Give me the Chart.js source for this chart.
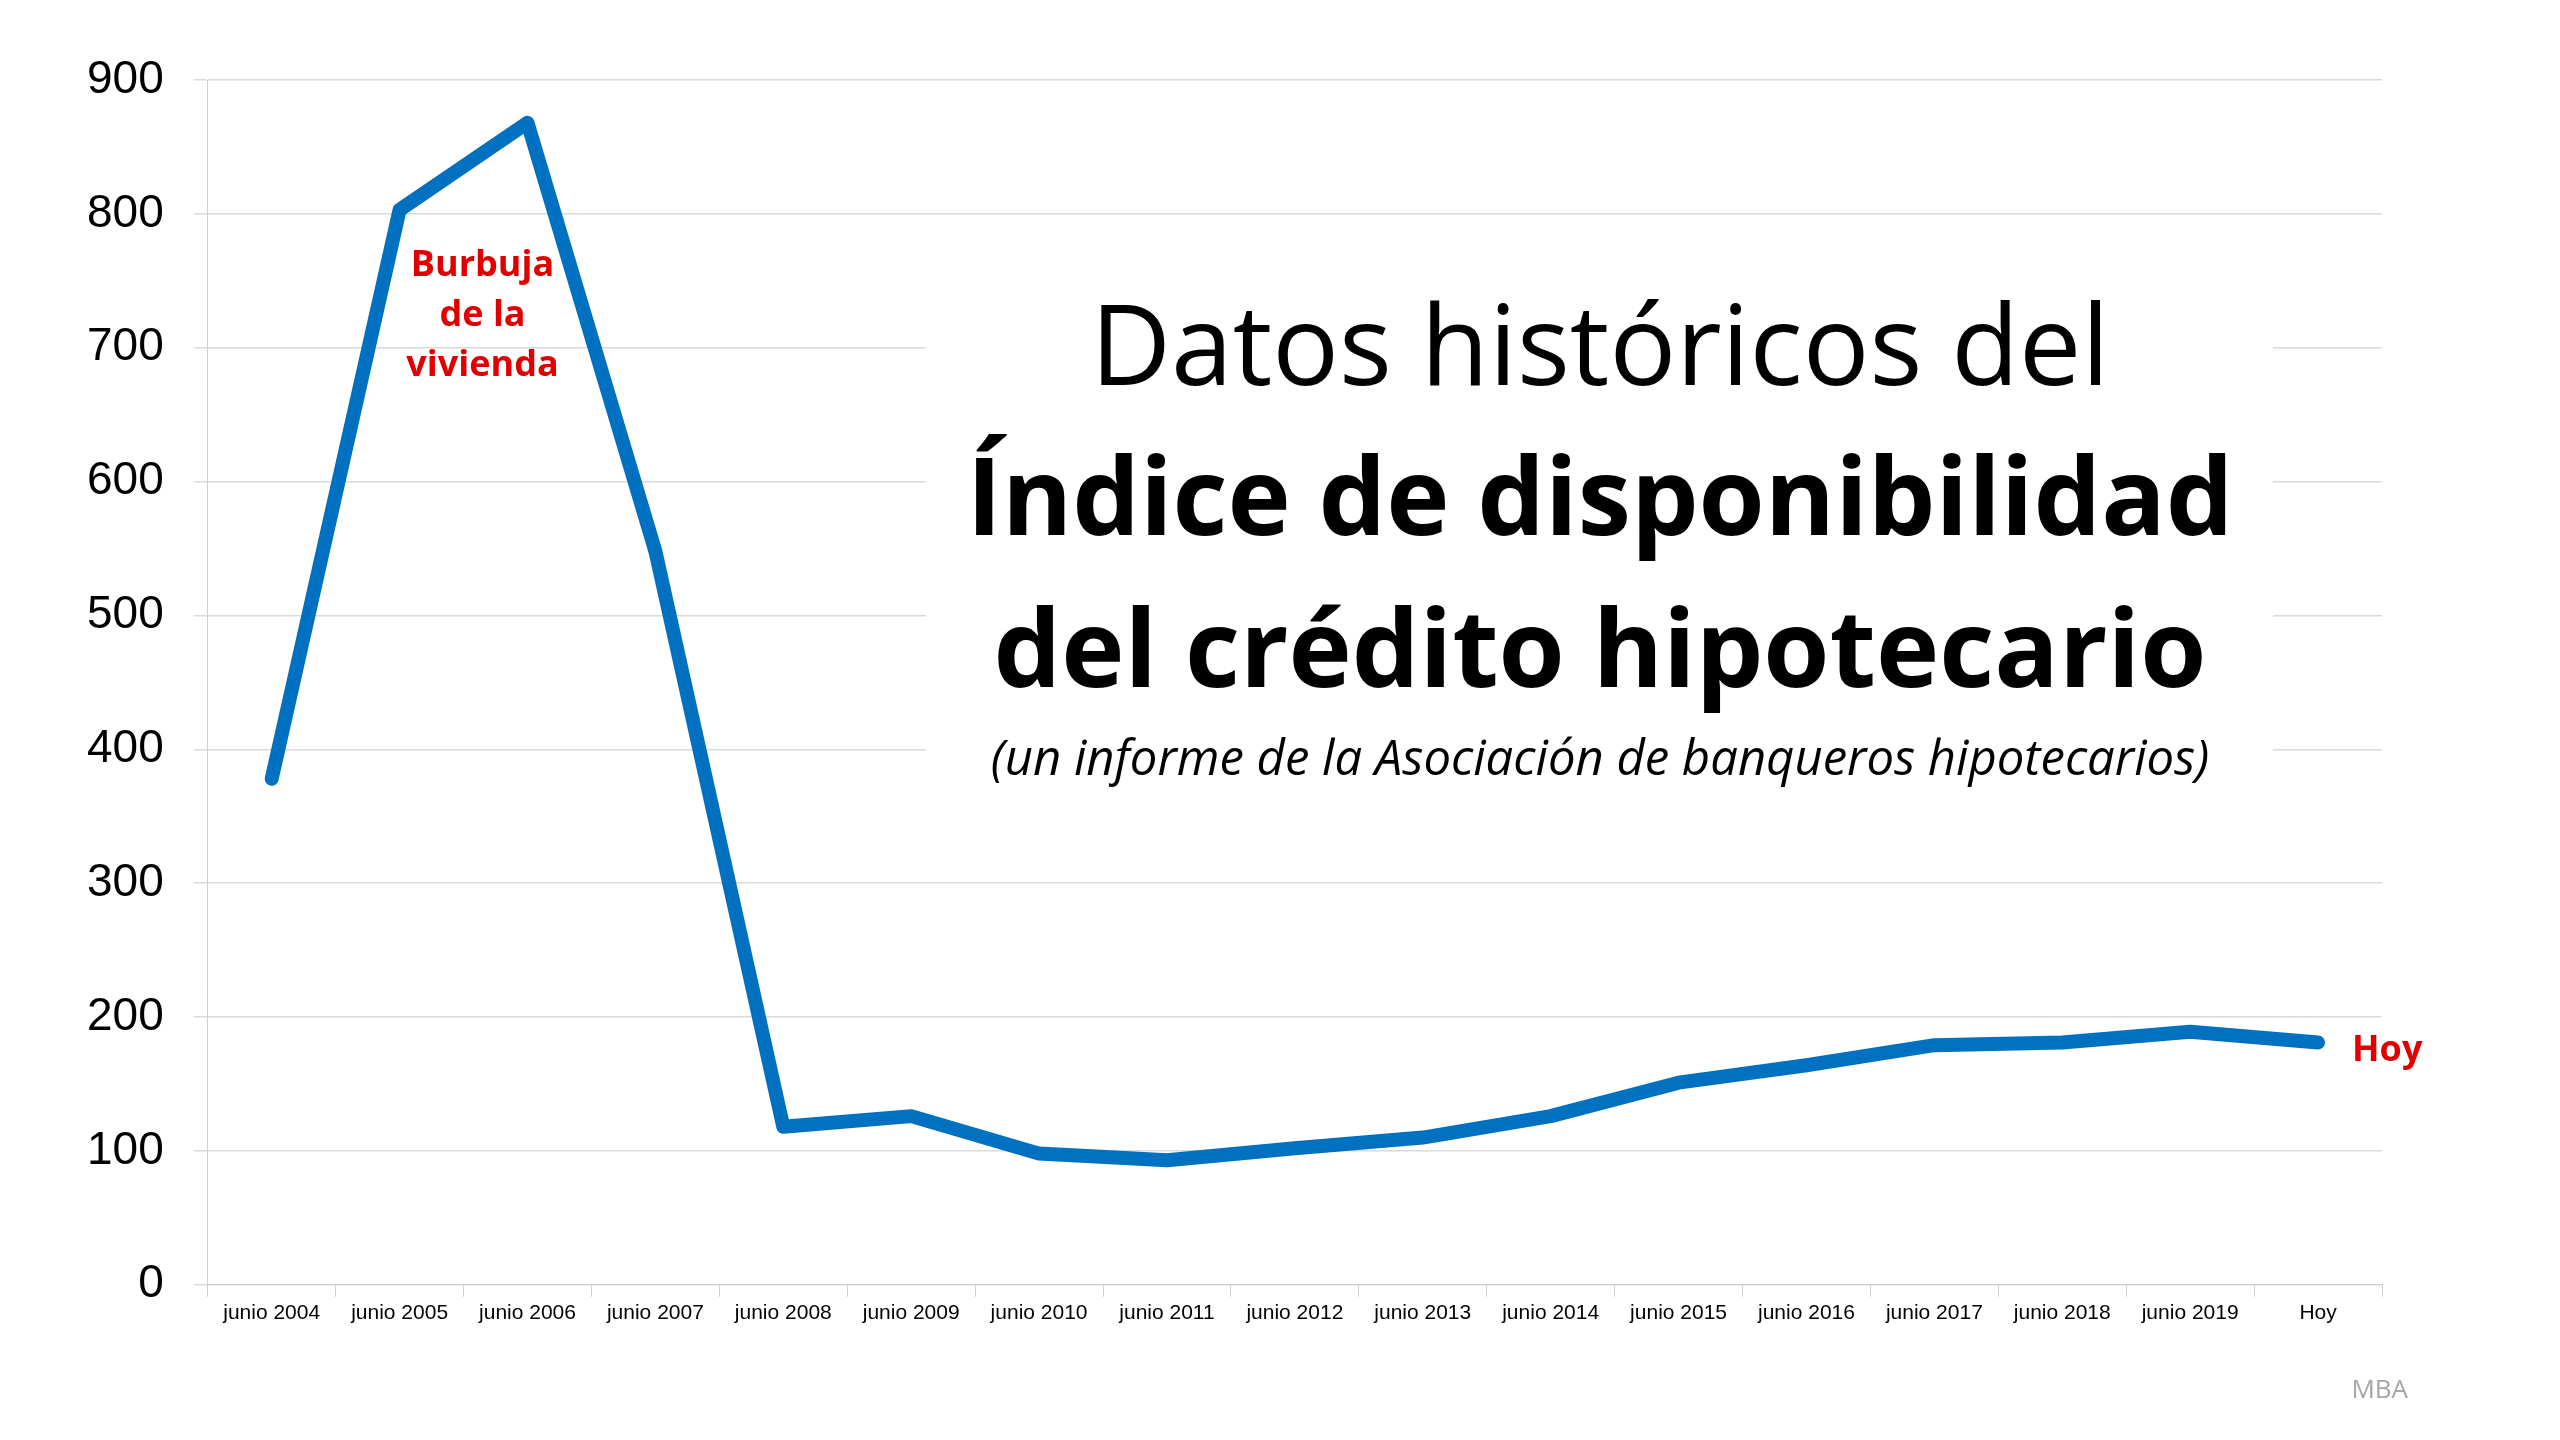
<!DOCTYPE html>
<html><head><meta charset="utf-8">
<script src="https://cdn.jsdelivr.net/npm/chart.js@4/dist/chart.umd.min.js"></script>
<style>html,body{margin:0;padding:0;background:#fff;}canvas{display:block}</style>
</head><body>
<canvas id="c" width="2560" height="1440"></canvas>
<script>
const categories = ["junio 2004","junio 2005","junio 2006","junio 2007","junio 2008","junio 2009","junio 2010","junio 2011","junio 2012","junio 2013","junio 2014","junio 2015","junio 2016","junio 2017","junio 2018","junio 2019","Hoy"];
const values = [378,803,868,548,118,126,98,93,102,110,126,151,164,179,181,189,181];
const yTicks = [0,100,200,300,400,500,600,700,800,900];

const overlay = {
  id:'overlay',
  afterDraw(chart){
    const ctx=chart.ctx, x=chart.scales.x, y=chart.scales.y;
    ctx.save();
    ctx.fillStyle='#fff';
    ctx.fillRect(926,270,1347,540);
    ctx.fillStyle='#000'; ctx.textAlign='center'; ctx.textBaseline='alphabetic';
    const cx=1600;
    ctx.font='111px "Open Sans"'; ctx.fillText('Datos históricos del',cx,385);
    ctx.font='bold 107px "Open Sans"'; ctx.fillText('Índice de disponibilidad',cx,535);
    ctx.fillText('del crédito hipotecario',cx,687);
    ctx.font='italic 49px "Open Sans"'; ctx.fillText('(un informe de la Asociación de banqueros hipotecarios)',cx,775);
    ctx.fillStyle='#e00000'; ctx.font='bold 36px "Open Sans"';
    const bx=(x.getPixelForValue(1)+x.getPixelForValue(2))/2+19;
    ctx.fillText('Burbuja',bx,276);ctx.fillText('de la',bx,326);ctx.fillText('vivienda',bx,376);
    ctx.textAlign='left';
    ctx.fillText('Hoy',x.getPixelForValue(16)+34,y.getPixelForValue(181)+18);
    ctx.fillStyle='#a6a6a6'; ctx.font='26px "Open Sans"'; ctx.textAlign='right';
    ctx.fillText('MBA',2408,1398);
    ctx.restore();
  }
};

new Chart(document.getElementById('c'),{
  type:'line',
  data:{labels:categories,datasets:[{data:values,borderColor:'#0070c0',borderWidth:14,pointRadius:0,tension:0,borderCapStyle:'round',borderJoinStyle:'round'}]},
  options:{responsive:false,animation:false,
    layout:{padding:{left:57,right:178,top:80,bottom:110}},
    plugins:{legend:{display:false},tooltip:{enabled:false}},
    scales:{
      x:{offset:true,grid:{display:true,drawOnChartArea:false,offset:true,tickLength:12,color:'#d0d0d0'},border:{color:'#d0d0d0'},
         ticks:{color:'#000',font:{family:'Liberation Sans',size:21},maxRotation:0,autoSkip:false,padding:4}},
      y:{min:0,max:900,afterBuildTicks(a){a.ticks=yTicks.map(v=>({value:v}));},
         grid:{color:'#d9d9d9',tickLength:14,lineWidth:1.5},border:{color:'#d0d0d0'},
         ticks:{color:'#000',font:{family:'Liberation Sans',size:46},padding:30}}
    }
  },
  plugins:[overlay]
});
</script>
</body></html>
